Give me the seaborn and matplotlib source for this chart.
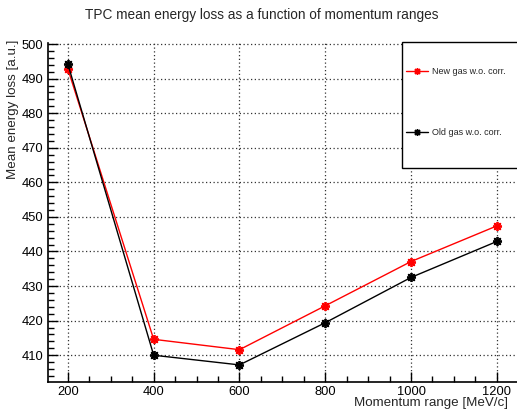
import matplotlib
matplotlib.use("Agg")
import matplotlib.pyplot as plt
import seaborn as sns
import pandas as pd
from matplotlib.ticker import MultipleLocator
from matplotlib.patches import Rectangle

# ---- data ----
momentum = [200, 400, 600, 800, 1000, 1200]
new_gas = [492.8, 414.6, 411.6, 424.3, 437.1, 447.4]
old_gas = [494.2, 410.0, 407.2, 419.4, 432.5, 442.9]
series_names = ["New gas w.o. corr.", "Old gas w.o. corr."]
series_colors = ["#ff0000", "#000000"]
x_ticks = [200, 400, 600, 800, 1000, 1200]
y_ticks = [410, 420, 430, 440, 450, 460, 470, 480, 490, 500]

title = "TPC mean energy loss as a function of momentum ranges"
xlabel = "Momentum range [MeV/c]"
ylabel = "Mean energy loss [a.u.]"

df = pd.DataFrame({
    "momentum": momentum * 2,
    "dedx": new_gas + old_gas,
    "series": [series_names[0]] * len(momentum) + [series_names[1]] * len(momentum),
})

sns.set_style("white")
plt.rcParams["font.family"] = ["Liberation Sans", "DejaVu Sans"]

W, H = 517, 411
fig = plt.figure(figsize=(W / 100, H / 100), dpi=100)
ax_l, ax_r, ax_t, ax_b = 47.5, 517, 43, 381.5
ax = fig.add_axes([ax_l / W, 1 - ax_b / H, (ax_r - ax_l) / W, (ax_b - ax_t) / H])

star = (8, 2, 0)
sns.lineplot(data=df, x="momentum", y="dedx", hue="series", style="series",
             palette=dict(zip(series_names, series_colors)),
             markers={n: star for n in series_names}, dashes=False,
             markersize=6.5, markeredgewidth=1.3, linewidth=1.0, ax=ax, legend=False,
             zorder=3)
for ln in ax.lines:
    ln.set_markeredgecolor(ln.get_color())
    ln.set_markerfacecolor(ln.get_color())

ax.set_xlim(152.5, 1247)
ax.set_ylim(402.4, 500.3)
ax.set_xticks(x_ticks)
ax.set_yticks(y_ticks)
ax.xaxis.set_minor_locator(MultipleLocator(50))
ax.yaxis.set_minor_locator(MultipleLocator(2))
ax.tick_params(axis="both", which="both", bottom=True, left=True, top=False, right=False)
ax.tick_params(axis="both", which="major", direction="in", length=7, width=1,
               labelsize=9.3, pad=3, color="black", labelcolor="black")
ax.tick_params(axis="both", which="minor", direction="in", length=4, width=1,
               color="black")
for s in ["top", "right"]:
    ax.spines[s].set_visible(False)
for s in ["left", "bottom"]:
    ax.spines[s].set_color("black")
    ax.spines[s].set_linewidth(1.2)
ax.grid(True, which="major", linestyle=(0, (1, 2)), color="#333333", linewidth=0.9)
ax.set_axisbelow(True)
ax.set_xlabel("")
ax.set_ylabel("")

# legend box
ax.add_patch(Rectangle((402 / W, 1 - 168 / H), 130 / W, 126 / H,
                       transform=fig.transFigure, facecolor="white",
                       edgecolor="black", linewidth=1.0, zorder=4, clip_on=False))
handles = [plt.Line2D([], [], color=c, marker=star, markersize=5,
                      markeredgewidth=1.0, markeredgecolor=c, linewidth=1.0)
           for c in series_colors]
leg = ax.legend(handles, series_names, loc="upper left",
                bbox_to_anchor=(406 / W, 1 - 67 / H), bbox_transform=fig.transFigure,
                frameon=False, fontsize=6.5, labelspacing=5.8, handlelength=2.4,
                handletextpad=0.45, borderpad=0, borderaxespad=0)
leg.set_zorder(5)

fig.text(262 / W, 1 - 15 / H, title, ha="center", va="center", fontsize=9.8)
fig.text(508 / W, 1 - 403 / H, xlabel, ha="right", va="center", fontsize=9.6)
fig.text(13 / W, 1 - 40 / H, ylabel, ha="center", va="top", rotation=90, fontsize=9.6)

fig.savefig("out.png", dpi=100)
